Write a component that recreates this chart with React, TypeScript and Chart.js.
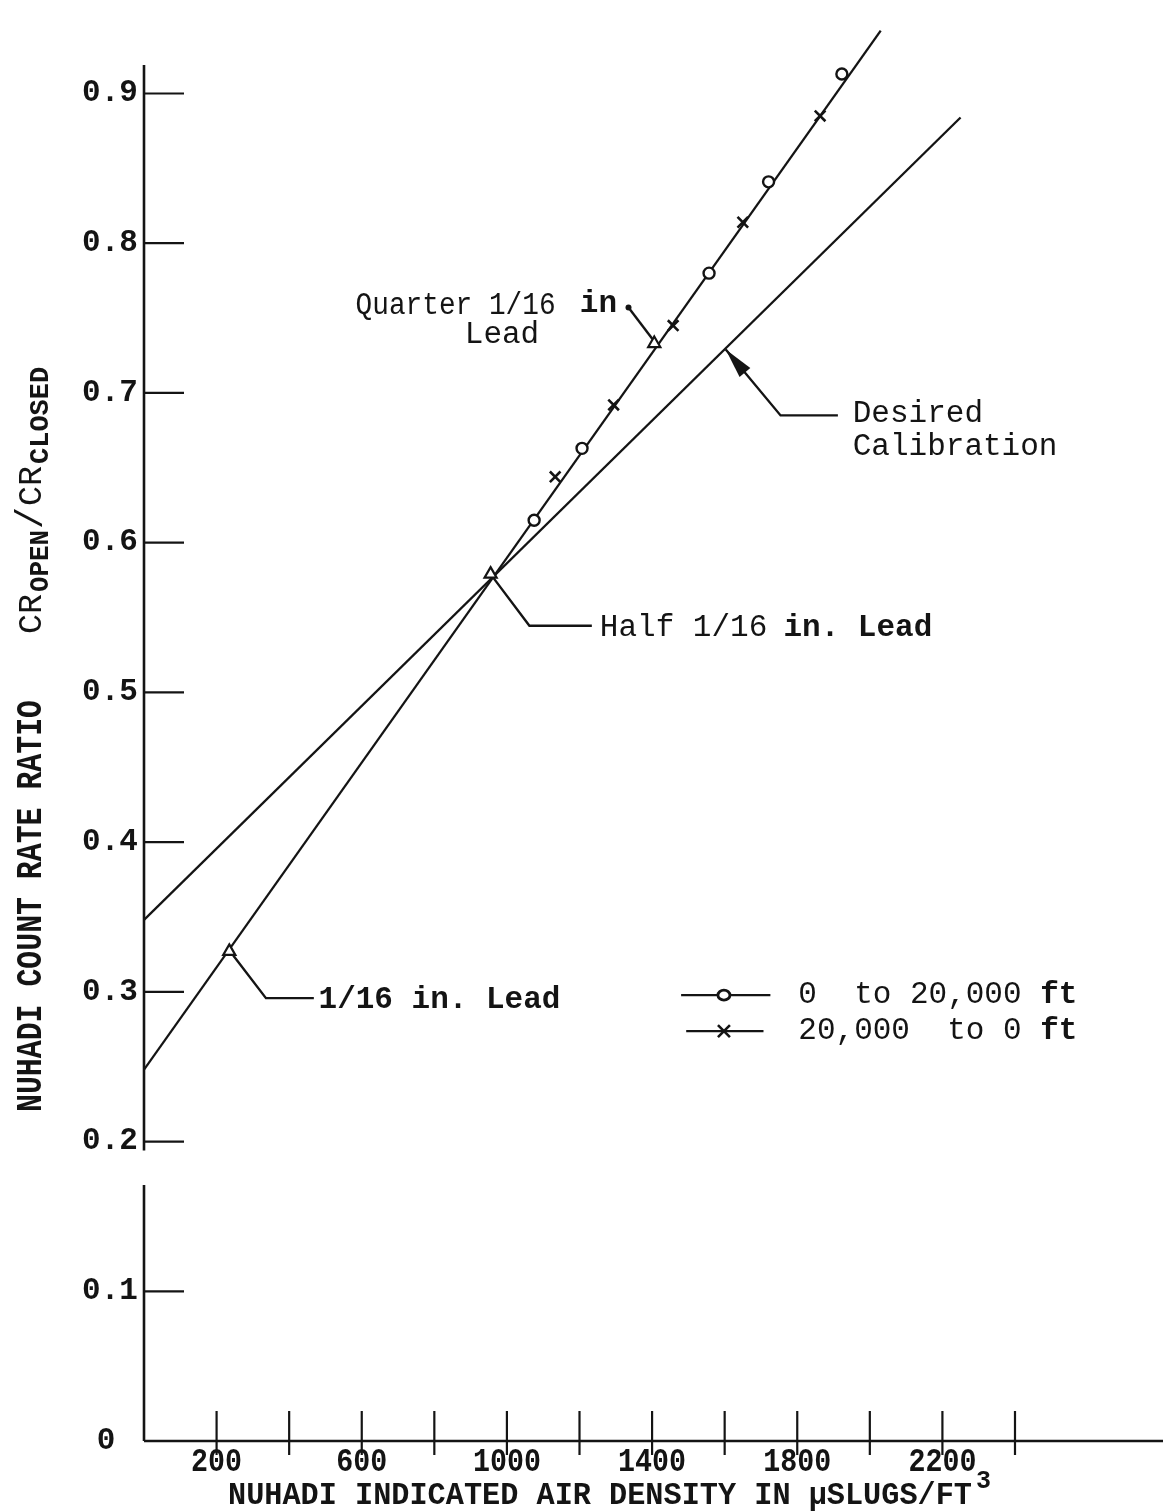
import { useEffect, useRef } from 'react';
import { Chart, registerables } from 'chart.js';

Chart.register(...registerables);

// ---- data ----
const desiredX = [0, 2250];
const desiredY = [0.348, 0.884];
const leadX = [0, 2030];
const leadY = [0.248, 0.942];
const climbX = [1075, 1207, 1557, 1721, 1923];
const climbY = [0.615, 0.663, 0.78, 0.841, 0.913];
const descentX = [1133, 1294, 1458, 1650, 1863];
const descentY = [0.644, 0.692, 0.745, 0.814, 0.885];
const leadTestX = [235, 955, 1406];
const leadTestY = [0.327, 0.579, 0.733];

const xTickValues = [200, 400, 600, 800, 1000, 1200, 1400, 1600, 1800, 2000, 2200, 2400];
const xTickLabels = ['200', '', '600', '', '1000', '', '1400', '', '1800', '', '2200', ''];
const yTickValues = [0, 0.1, 0.2, 0.3, 0.4, 0.5, 0.6, 0.7, 0.8, 0.9];
const yTickLabels = ['0', '0.1', '0.2', '0.3', '0.4', '0.5', '0.6', '0.7', '0.8', '0.9'];

const legendLabels = ['0  to 20,000', '20,000  to 0'];
const legendUnit = 'ft';

const xTitle = 'NUHADI INDICATED AIR DENSITY IN \u03BCSLUGS/FT';
const yTitleMain = 'NUHADI COUNT RATE RATIO';

const X_MIN = 0;
const X_MAX = 2780;
const Y_MIN = 0;
const Y_MAX = 0.9557;
const Y_AXIS_TOP = 0.919;

const MONO = '"Liberation Mono", "Courier New", monospace';
const INK = '#141414';

function pts(xs: number[], ys: number[]) {
  return xs.map((x, i) => ({ x, y: ys[i] }));
}

function text(
  ctx: CanvasRenderingContext2D,
  s: string,
  x: number,
  y: number,
  size: number,
  weight: string = 'normal',
  align: CanvasTextAlign = 'left',
  maxW?: number
) {
  ctx.font = `${weight} ${size}px ${MONO}`;
  ctx.textAlign = align;
  ctx.textBaseline = 'middle';
  if (maxW) ctx.fillText(s, x, y, maxW);
  else ctx.fillText(s, x, y);
}

const overlay = {
  id: 'overlay',
  afterDatasetsDraw(chart: any) {
    const ctx: CanvasRenderingContext2D = chart.ctx;
    const xs = chart.scales.x;
    const ys = chart.scales.y;
    const X = (v: number) => xs.getPixelForValue(v);
    const Y = (v: number) => ys.getPixelForValue(v);
    ctx.save();
    ctx.strokeStyle = INK;
    ctx.fillStyle = INK;
    ctx.lineCap = 'butt';

    // axes
    const ax = X(X_MIN);
    const ay = Y(Y_MIN);
    ctx.lineWidth = 2.6;
    ctx.beginPath();
    ctx.moveTo(ax, Y(Y_AXIS_TOP));
    ctx.lineTo(ax, Y(0.194));
    ctx.moveTo(ax, Y(0.171));
    ctx.lineTo(ax, ay);
    ctx.moveTo(ax, ay);
    ctx.lineTo(chart.width, ay);
    ctx.stroke();

    // y ticks (inward)
    ctx.lineWidth = 2.2;
    yTickValues.forEach((v) => {
      if (v === 0) return;
      ctx.beginPath();
      ctx.moveTo(ax, Y(v));
      ctx.lineTo(ax + 40, Y(v));
      ctx.stroke();
    });
    // x ticks (crossing)
    xTickValues.forEach((v) => {
      ctx.beginPath();
      ctx.moveTo(X(v), ay - 30);
      ctx.lineTo(X(v), ay + 14);
      ctx.stroke();
    });

    // tick labels
    yTickLabels.forEach((l, i) => {
      text(ctx, l, ax - 34 - (l.length === 1 ? 4 : 0), Y(yTickValues[i]), 31, 'bold', 'center');
    });
    xTickLabels.forEach((l, i) => {
      if (!l) return;
      text(ctx, l, X(xTickValues[i]), ay + 22, 33, 'bold', 'center', l.length * 17);
    });

    // x title
    text(ctx, xTitle, 228, ay + 55, 31, 'bold', 'left', 744);
    text(ctx, '3', 976, ay + 41, 25, 'bold', 'left');

    // y title (rotated)
    ctx.save();
    ctx.translate(32, ay - 329);
    ctx.rotate(-Math.PI / 2);
    text(ctx, yTitleMain, 0, 0, 36, 'bold', 'left', 412);
    text(ctx, 'CR', 478, 0, 34, 'normal', 'left', 40);
    text(ctx, 'OPEN', 520, 9, 27, 'bold', 'left', 62);
    text(ctx, '/', 583, 0, 38, 'normal', 'left', 22);
    text(ctx, 'CR', 606, 0, 34, 'normal', 'left', 40);
    text(ctx, 'CLOSED', 648, 9, 27, 'bold', 'left', 118);
    ctx.restore();

    // annotations
    ctx.lineWidth = 2.4;
    // Quarter 1/16 in. Lead
    text(ctx, 'Quarter 1/16', X(583), Y(0.758), 31, 'normal', 'left', 200);
    text(ctx, 'in', X(1201), Y(0.759), 31, 'bold', 'left', 38);
    text(ctx, 'Lead', X(884), Y(0.739), 31, 'normal', 'left');
    ctx.beginPath();
    ctx.arc(X(1335), Y(0.757), 3, 0, Math.PI * 2);
    ctx.fill();
    ctx.beginPath();
    ctx.moveTo(X(1335), Y(0.757));
    ctx.lineTo(X(1401), Y(0.736));
    ctx.stroke();

    // Desired Calibration arrow
    const tipX = X(1603), tipY = Y(0.729);
    const kneeX = X(1754), kneeY = Y(0.685);
    ctx.beginPath();
    ctx.moveTo(X(1912), kneeY);
    ctx.lineTo(kneeX, kneeY);
    ctx.lineTo(tipX, tipY);
    ctx.stroke();
    {
      const ang = Math.atan2(tipY - kneeY, tipX - kneeX);
      const L = 30, W = 7;
      const bx = tipX - Math.cos(ang) * L, by = tipY - Math.sin(ang) * L;
      ctx.beginPath();
      ctx.moveTo(tipX, tipY);
      ctx.lineTo(bx - Math.sin(ang) * W, by + Math.cos(ang) * W);
      ctx.lineTo(bx + Math.sin(ang) * W, by - Math.cos(ang) * W);
      ctx.closePath();
      ctx.fill();
    }
    text(ctx, 'Desired', X(1953), Y(0.686), 31, 'normal', 'left');
    text(ctx, 'Calibration', X(1953), Y(0.664), 31, 'normal', 'left');

    // Half 1/16 in. Lead
    ctx.beginPath();
    ctx.moveTo(X(leadTestX[1]) + 3, Y(leadTestY[1]) + 4);
    ctx.lineTo(X(1062), Y(0.5445));
    ctx.lineTo(X(1234), Y(0.5445));
    ctx.stroke();
    text(ctx, 'Half 1/16', X(1256), Y(0.543), 31, 'normal', 'left');
    text(ctx, 'in. Lead', X(1762), Y(0.543), 31, 'bold', 'left');

    // 1/16 in. Lead
    ctx.beginPath();
    ctx.moveTo(X(leadTestX[0]) + 4, Y(leadTestY[0]) + 4);
    ctx.lineTo(X(336), Y(0.2958));
    ctx.lineTo(X(468), Y(0.2958));
    ctx.stroke();
    text(ctx, '1/16 in. Lead', X(481), Y(0.2945), 31, 'bold', 'left');

    // legend
    const rows = [
      { y: 0.2978, x0: 1480, x1: 1726, kind: 'circle' },
      { y: 0.2738, x0: 1494, x1: 1707, kind: 'cross' },
    ];
    rows.forEach((r, i) => {
      const yy = Y(r.y);
      ctx.lineWidth = 2.2;
      ctx.beginPath();
      ctx.moveTo(X(r.x0), yy);
      ctx.lineTo(X(r.x1), yy);
      ctx.stroke();
      const mx = X(1598);
      if (r.kind === 'circle') {
        ctx.beginPath();
        ctx.ellipse(mx, yy, 6, 5, 0, 0, Math.PI * 2);
        ctx.fillStyle = '#fff';
        ctx.fill();
        ctx.lineWidth = 2.8;
        ctx.stroke();
        ctx.fillStyle = INK;
      } else {
        ctx.lineWidth = 2.6;
        ctx.beginPath();
        ctx.moveTo(mx - 6, yy - 6);
        ctx.lineTo(mx + 6, yy + 6);
        ctx.moveTo(mx + 6, yy - 6);
        ctx.lineTo(mx - 6, yy + 6);
        ctx.stroke();
      }
      text(ctx, legendLabels[i], X(1803), yy, 31, 'normal', 'left');
      text(ctx, legendUnit, X(1803) + 13 * 18.6, yy, 31, 'bold', 'left');
    });

    ctx.restore();
  },
};

export default function App() {
  const ref = useRef<HTMLCanvasElement | null>(null);

  useEffect(() => {
    const canvas = ref.current;
    if (!canvas) return;
    const chart = new Chart(canvas, {
      type: 'scatter',
      data: {
        datasets: [
          {
            label: 'Lead tests',
            data: pts(leadTestX, leadTestY),
            pointStyle: 'triangle',
            pointRadius: 7,
            pointBorderWidth: 2.2,
            pointBackgroundColor: '#fff',
            pointBorderColor: INK,
            showLine: false,
          },
          {
            label: '0 to 20,000 ft',
            data: pts(climbX, climbY),
            pointStyle: 'circle',
            pointRadius: 5.5,
            pointBorderWidth: 2.4,
            pointBackgroundColor: '#fff',
            pointBorderColor: INK,
            showLine: false,
          },
          {
            label: '20,000 to 0 ft',
            data: pts(descentX, descentY),
            pointStyle: 'crossRot',
            pointRadius: 7.5,
            pointBorderWidth: 2.6,
            pointBorderColor: INK,
            showLine: false,
          },
          {
            label: 'Lead',
            data: pts(leadX, leadY),
            showLine: true,
            borderColor: INK,
            borderWidth: 2.3,
            pointRadius: 0,
          },
          {
            label: 'Desired Calibration',
            data: pts(desiredX, desiredY),
            showLine: true,
            borderColor: INK,
            borderWidth: 2.3,
            pointRadius: 0,
          },
        ],
      },
      options: {
        animation: false,
        responsive: false,
        devicePixelRatio: 1,
        layout: { padding: { top: 0, right: 3, bottom: 0, left: 0 } },
        plugins: { legend: { display: false }, tooltip: { enabled: false } },
        scales: {
          x: {
            type: 'linear',
            min: X_MIN,
            max: X_MAX,
            grid: { display: false },
            border: { display: false },
            ticks: { display: false },
            afterFit: (s: any) => {
              s.height = 70;
            },
          },
          y: {
            type: 'linear',
            min: Y_MIN,
            max: Y_MAX,
            grid: { display: false },
            border: { display: false },
            ticks: { display: false },
            afterFit: (s: any) => {
              s.width = 144;
            },
          },
        },
      },
      plugins: [overlay],
    });
    return () => chart.destroy();
  }, []);

  return (
    <div style={{ position: 'absolute', left: 0, top: 0, width: 1163, height: 1511, background: '#fff' }}>
      <canvas ref={ref} width={1163} height={1511} style={{ width: 1163, height: 1511, display: 'block' }} />
    </div>
  );
}
